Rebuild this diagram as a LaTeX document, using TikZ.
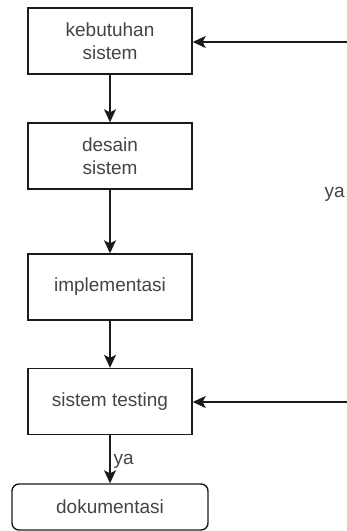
\documentclass[tikz,border=0pt]{standalone}
\usepackage{fontspec}
\setmainfont{Liberation Sans}
\usetikzlibrary{arrows.meta}
\definecolor{txt}{HTML}{444444}
\definecolor{ln}{HTML}{1A1A1A}
\begin{document}
\begin{tikzpicture}[x=1pt,y=-1pt,
  proc/.style={draw=ln,line width=1.4pt,minimum width=164pt,minimum height=66pt,inner sep=0pt,
    text=txt,font=\fontsize{19}{23.5}\selectfont,align=center},
  term/.style={proc,rounded corners=7pt,minimum width=196pt,minimum height=46pt},
  flow/.style={draw=ln,line width=1.4pt,-{Stealth[length=13pt,width=12pt,inset=3pt]}},
  lbl/.style={text=txt,font=\fontsize{19}{23}\selectfont,inner sep=0pt}]
\useasboundingbox (0,0) rectangle (346,531);
\node[proc] (a) at (110,41) {kebutuhan\\sistem};
\node[proc] (b) at (110,156) {desain\\sistem};
\node[proc] (c) at (110,287) {implementasi};
\node[proc] (d) at (110,401.5) {sistem testing};
\node[term] (e) at (110,507) {dokumentasi};
\coordinate (r1) at (360,42);
\coordinate (r2) at (360,402);
\draw[flow] (a) -- (b);
\draw[flow] (b) -- (c);
\draw[flow] (c) -- (d);
\draw[flow] (d) -- node[lbl,anchor=west,xshift=3pt,yshift=-2pt] (y2) {ya} (e);
\draw[flow] (r1) -- (a.east|-r1);
\draw[flow] (r2) -- (d.east|-r2);
\node[lbl,anchor=east] (y1) at (345,194) {ya};
\end{tikzpicture}
\end{document}
